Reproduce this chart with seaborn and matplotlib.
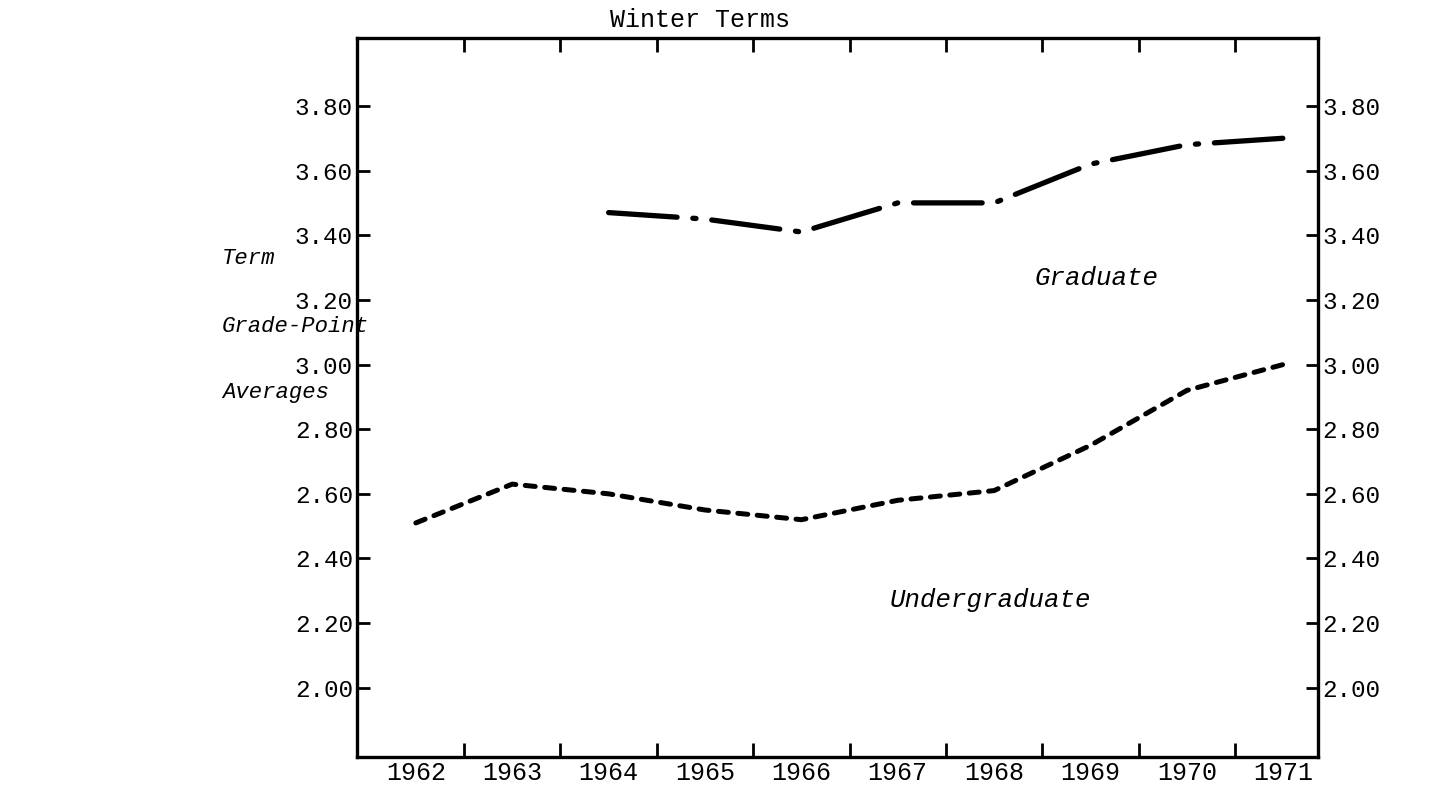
import matplotlib
matplotlib.use("Agg")
import matplotlib.pyplot as plt
from matplotlib.ticker import FixedLocator, NullFormatter, FixedFormatter
import numpy as np
import pandas as pd
import seaborn as sns

# values
years = [1962, 1963, 1964, 1965, 1966, 1967, 1968, 1969, 1970, 1971]
undergrad_gpa = [2.51, 2.63, 2.60, 2.55, 2.52, 2.58, 2.61, 2.75, 2.92, 3.00]
grad_years = [1964, 1965, 1966, 1967, 1968, 1969, 1970, 1971]
grad_gpa = [3.47, 3.45, 3.41, 3.50, 3.50, 3.62, 3.68, 3.70]
y_ticks = [2.00, 2.20, 2.40, 2.60, 2.80, 3.00, 3.20, 3.40, 3.60, 3.80]
ylabel_lines = ["Term", "Grade-Point", "Averages"]

sns.set_theme(style="white")
plt.rcParams["font.family"] = ["Liberation Mono", "DejaVu Sans Mono"]

ug = pd.DataFrame({"year": years, "gpa": undergrad_gpa})
gr = pd.DataFrame({"year": grad_years, "gpa": grad_gpa})

fig = plt.figure(figsize=(14.31, 7.89), dpi=100)
ax = fig.add_axes([0.2495, 0.0406, 0.6715, 0.9112])

sns.lineplot(data=ug, x="year", y="gpa", ax=ax, color="black", lw=3.6,
             linestyle=(0, (2.0, 1.9)), dash_capstyle="round")
sns.lineplot(data=gr, x="year", y="gpa", ax=ax, color="black", lw=3.8,
             linestyle=(0, (13, 3.0, 0.6, 3.0)), dash_capstyle="round")

ax.set_xlim(1961.39, 1971.36)
ax.set_ylim(1.786, 4.01)

# ticks sit between the years, labels centred on each year
ax.xaxis.set_major_locator(FixedLocator([y + 0.5 for y in years[:-1]]))
ax.xaxis.set_major_formatter(NullFormatter())
ax.xaxis.set_minor_locator(FixedLocator(years))
ax.xaxis.set_minor_formatter(FixedFormatter([str(y) for y in years]))
ax.tick_params(axis="x", which="major", direction="in", length=10, width=2,
               top=True, bottom=True, color="black")
ax.tick_params(axis="x", which="minor", length=0, pad=3, labelsize=18,
               labelcolor="black")

ax.set_yticks(y_ticks)
ax.set_yticklabels([f"{v:.2f}" for v in y_ticks])
ax.tick_params(axis="y", direction="in", length=9, width=2, left=True,
               right=True, labelleft=True, labelright=True, pad=3,
               labelsize=17.5, color="black", labelcolor="black")

for s in ax.spines.values():
    s.set_visible(True)
    s.set_color("black")
    s.set_linewidth(2.4)

ax.set_xlabel("")
ax.set_ylabel("")

ax.text(0.357, 1.008, "Winter Terms", transform=ax.transAxes, ha="center",
        va="bottom", fontsize=18, color="black")

ax.text(1968.42, 3.267, "Graduate", fontsize=18.5, style="italic",
        va="center", ha="left", color="black")
ax.text(1966.92, 2.272, "Undergraduate", fontsize=18.5, style="italic",
        va="center", ha="left", color="black")

label_y = [0.673, 0.586, 0.503]
for lab, yy in zip(ylabel_lines, label_y):
    fig.text(0.155, yy, lab, fontsize=16, style="italic",
             va="center", ha="left", color="black")

fig.savefig("out.png", dpi=100, facecolor="white")
